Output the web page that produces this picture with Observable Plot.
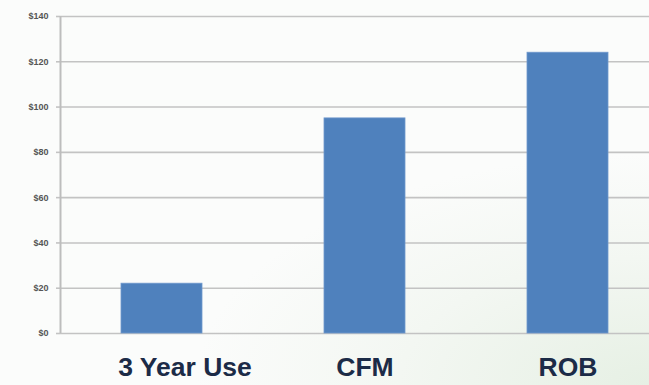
<!DOCTYPE html>
<html>
<head>
<meta charset="utf-8">
<script src="https://cdn.jsdelivr.net/npm/d3@7"></script>
<script src="https://cdn.jsdelivr.net/npm/@observablehq/plot@0.6"></script>
<style>
  html, body { margin: 0; padding: 0; }
  body {
    width: 649px; height: 385px; overflow: hidden;
    background: radial-gradient(ellipse 70% 60% at 100% 100%, #e6f0e4 0%, #f3f7f2 55%, #fbfcfb 100%);
  }
  #chart svg { display: block; background: transparent; }
</style>
</head>
<body>
<div id="chart"></div>
<script>
const categories = ["3 Year Use", "CFM", "ROB"];
const values = [22, 95, 124];
const yTicks = [0, 20, 40, 60, 80, 100, 120, 140];

const data = categories.map((c, i) => ({category: c, value: values[i]}));

const xLabelStyle = {
  tickSize: 0,
  tickPadding: 24,
  fontSize: 26.5,
  fontWeight: "bold",
  fill: "#1c2b47",
  label: null
};

const chart = Plot.plot({
  width: 649,
  height: 385,
  marginTop: 16,
  marginBottom: 52,
  marginLeft: 60,
  marginRight: 0,
  style: {background: "transparent", fontFamily: "Liberation Sans, Arial, sans-serif"},
  x: {domain: categories, range: [60, 669], paddingInner: 0.6, paddingOuter: 0.3},
  y: {domain: [0, 140], ticks: yTicks},
  marks: [
    Plot.ruleY(yTicks, {stroke: "#c3c3c3", strokeWidth: 1.6}),
    Plot.axisY({
      ticks: yTicks,
      tickFormat: d => "$" + d,
      tickSize: 4,
      tickPadding: 8,
      stroke: "#c3c3c3",
      strokeWidth: 1.6,
      fontSize: 9,
      fontWeight: "bold",
      fill: "#555",
      label: null
    }),
    Plot.barY(data, {x: "category", y: "value", fill: "#4f81bd", stroke: "#6f98cc", strokeWidth: 0.8}),
    Plot.axisX({...xLabelStyle, ticks: categories.slice(0, 1), dx: 23}),
    Plot.axisX({...xLabelStyle, ticks: categories.slice(1)})
  ]
});

// vertical axis line along the left of the frame
const svg = d3.select(chart);
svg.append("line")
  .attr("x1", 60.5).attr("x2", 60.5)
  .attr("y1", 16).attr("y2", 333)
  .attr("stroke", "#bdbdbd").attr("stroke-width", 2);

document.getElementById("chart").appendChild(chart);
</script>
</body>
</html>
